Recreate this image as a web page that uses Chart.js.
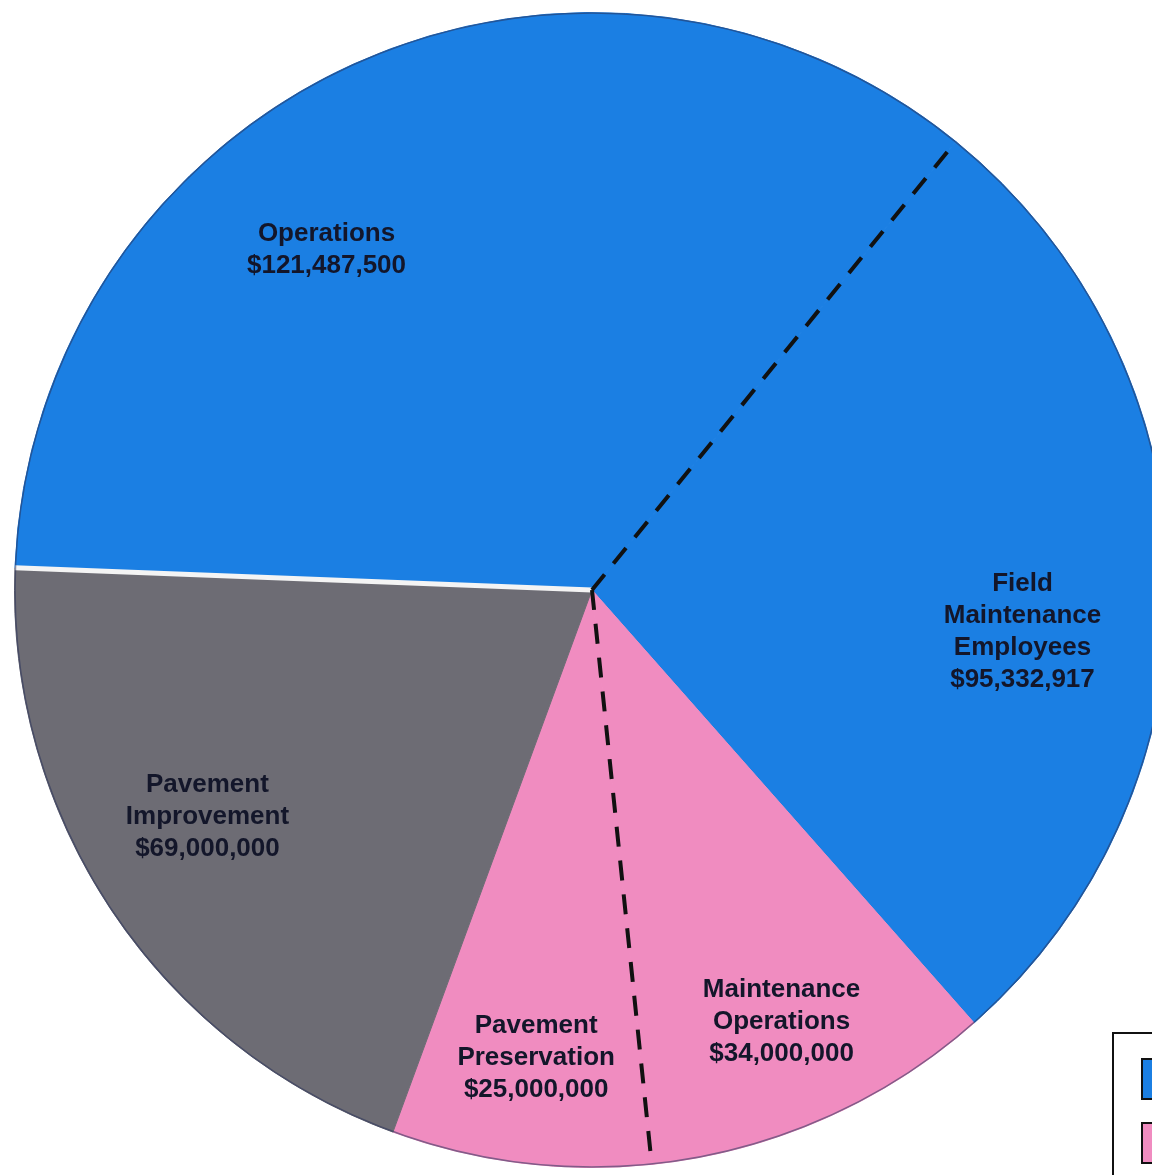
<!DOCTYPE html>
<html>
<head>
<meta charset="utf-8">
<script src="https://cdn.jsdelivr.net/npm/chart.js@4.4.1/dist/chart.umd.min.js"></script>
<style>
  html, body { margin: 0; padding: 0; background: #fff; overflow: hidden; width: 1152px; height: 1175px; }
  #wrap { position: absolute; left: 14px; top: 12px; width: 1156px; height: 1156px; }
  #legendBox { position: absolute; left: 1112px; top: 1032px; width: 80px; height: 200px;
    border: 2px solid #111; background: #fff; box-sizing: border-box; }
  .sw { position: absolute; left: 27px; width: 30px; height: 42px; border: 2px solid #111; box-sizing: border-box; }
</style>
</head>
<body>
<div id="wrap"><canvas id="myChart" width="1156" height="1156"></canvas></div>
<div id="legendBox">
  <div class="sw" style="top:24px;background:#1b7fe3"></div>
  <div class="sw" style="top:88px;background:#f08cc0"></div>
</div>
<script>
// pie of maintenance budget

var categories = ['Operations', 'Field Maintenance Employees', 'Maintenance Operations',
                  'Pavement Preservation', 'Pavement Improvement'];
var amounts = [121487500, 95332917, 34000000, 25000000, 69000000];
var labelLines = [
    ['Operations', '$121,487,500'],
    ['Field', 'Maintenance', 'Employees', '$95,332,917'],
    ['Maintenance', 'Operations', '$34,000,000'],
    ['Pavement', 'Preservation', '$25,000,000'],
    ['Pavement', 'Improvement', '$69,000,000']
];
var sliceColours = ['#1b7fe3', '#1b7fe3', '#f08cc0', '#f08cc0', '#6d6c74'];

// label placement: shift from mid angle (deg) and fraction of radius
var labelShift = [-13.6, 6.8, 0, -0.3, 3.3];
var labelRadius = [0.747, 0.749, 0.817, 0.815, 0.773];

var sliceLines = {
    id: 'sliceLines',
    afterDatasetsDraw: function(chart) {
        var ctx = chart.ctx;
        var arcs = chart.getDatasetMeta(0).data;
        function edge(arc, angle, colour, width, dash) {
            ctx.save();
            ctx.strokeStyle = colour;
            ctx.lineWidth = width;
            ctx.setLineDash(dash);
            ctx.beginPath();
            ctx.moveTo(arc.x, arc.y);
            ctx.lineTo(arc.x + Math.cos(angle) * arc.outerRadius, arc.y + Math.sin(angle) * arc.outerRadius);
            ctx.stroke();
            ctx.restore();
        }
        // white seam between pavement improvement and operations
        edge(arcs[0], arcs[0].startAngle, '#f4f4f4', 5, []);
        // dashed split inside the blue and inside the pink
        edge(arcs[1], arcs[1].startAngle, '#111', 4, [20, 14]);
        edge(arcs[3], arcs[3].startAngle, '#111', 4, [20, 14]);

        // thin dark rim like the scanned original
        var a0 = arcs[0];
        ctx.save();
        ctx.strokeStyle = 'rgba(40,50,90,0.55)';
        ctx.lineWidth = 1.5;
        ctx.beginPath();
        ctx.arc(a0.x, a0.y, a0.outerRadius - 0.5, 0, Math.PI * 2);
        ctx.stroke();
        ctx.restore();

        ctx.save();
        ctx.font = 'bold 26px "Liberation Sans", Arial, sans-serif';
        ctx.fillStyle = '#13162a';
        ctx.textAlign = 'center';
        ctx.textBaseline = 'middle';
        for (var i = 0; i < arcs.length; i++) {
            var a = arcs[i];
            var mid = (a.startAngle + a.endAngle) / 2 + labelShift[i] * Math.PI / 180;
            var r = a.outerRadius * labelRadius[i];
            var cx = a.x + Math.cos(mid) * r;
            var cy = a.y + Math.sin(mid) * r;
            var lines = labelLines[i];
            for (var j = 0; j < lines.length; j++) {
                ctx.fillText(lines[j], cx, cy + (j - (lines.length - 1) / 2) * 32);
            }
        }
        ctx.restore();
    }
};

var config = {
    type: 'pie',
    data: {
        labels: categories,
        datasets: [{
            data: amounts,
            backgroundColor: sliceColours,
            borderColor: sliceColours,
            borderWidth: 1
        }]
    },
    options: {
        responsive: false,
        animation: false,
        rotation: -87.8,
        layout: { padding: 0 },
        plugins: {
            legend: { display: false },
            tooltip: { enabled: false }
        }
    },
    plugins: [sliceLines]
};

var ctx = document.getElementById('myChart').getContext('2d');
window.myPie = new Chart(ctx, config);
</script>
</body>
</html>
